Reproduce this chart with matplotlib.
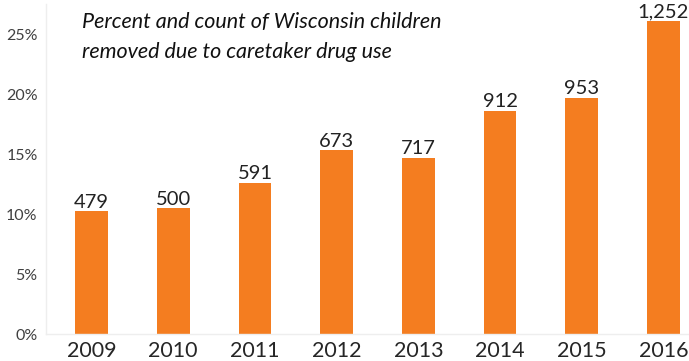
import matplotlib.pyplot as plt

years = ['2009', '2010', '2011', '2012', '2013', '2014', '2015', '2016']
percents = [10.25, 10.5, 12.6, 15.3, 14.7, 18.6, 19.7, 26.1]
counts = ['479', '500', '591', '673', '717', '912', '953', '1,252']
yticks = [0, 5, 10, 15, 20, 25]

plt.rcParams['font.family'] = ['Lato', 'DejaVu Sans']

fig = plt.figure(figsize=(6.89, 3.61), dpi=100)
ax = fig.add_axes([46 / 689, 27 / 361, 643 / 689, 330 / 361])

x = range(len(years))
bars = ax.bar(x, percents, width=0.40, color='#F47D20')

# count labels above bars
for xi, p, c in zip(x, percents, counts):
    ax.text(xi, p + 0.28, c, ha='center', va='baseline', fontsize=14.5, color='#222222')

ax.set_xlim(-0.557, 7.313)
ax.set_ylim(0, 27.5)
ax.set_yticks(yticks)
ax.set_yticklabels([f'{t}%' for t in yticks])
ax.set_xticks(list(x))
ax.set_xticklabels(years)
ax.tick_params(axis='y', length=0, pad=6, labelsize=11.5, labelcolor='#404040')
ax.tick_params(axis='x', length=0, pad=5, labelsize=15.5, labelcolor='#262626')

for side in ['top', 'right']:
    ax.spines[side].set_visible(False)
for side in ['left', 'bottom']:
    ax.spines[side].set_color('#eeeeee')
    ax.spines[side].set_linewidth(1)

fig.text(82 / 689, 1 - 22 / 361, 'Percent and count of Wisconsin children',
         fontsize=15.5, style='italic', color='#111111', va='center')
fig.text(82 / 689, 1 - 52 / 361, 'removed due to caretaker drug use',
         fontsize=15.5, style='italic', color='#111111', va='center')

fig.savefig('out.png', dpi=100)
